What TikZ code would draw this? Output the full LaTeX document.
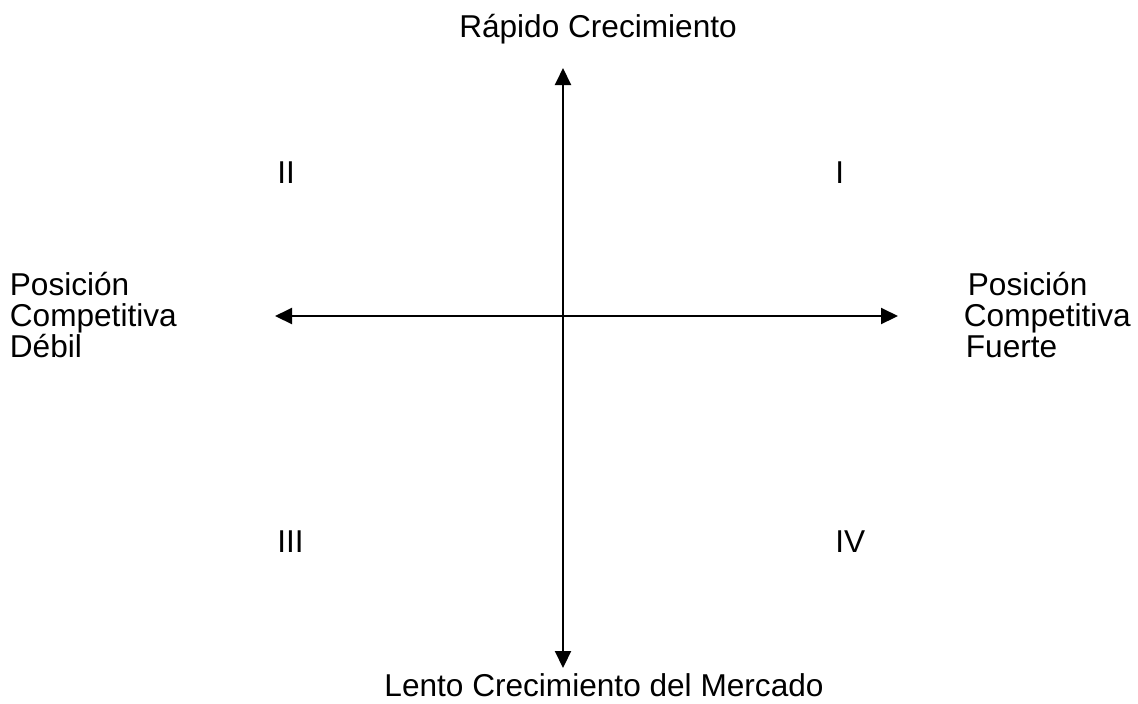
\documentclass[tikz,border=0pt]{standalone}
\usepackage{fontspec}
\setmainfont{Liberation Sans}
\usepackage{tikz}
\usetikzlibrary{arrows.meta, positioning}
\tikzset{
    lbl/.style={inner sep=0pt, font=\fontsize{15.8}{15.5}\selectfont},
    axis/.style={line width=1pt, {Triangle[length=8.5pt,width=8pt]}-{Triangle[length=8.5pt,width=8pt]}}
}

\begin{document}
\begin{tikzpicture}[x=0.5pt, y=-0.5pt]
    \useasboundingbox (0,0) rectangle (1138,703);
    % axes
    \coordinate (top) at (563,68);
    \coordinate (bot) at (563,668);
    \coordinate (lft) at (275,316);
    \coordinate (rgt) at (898,316);
    \draw[axis] (bot) -- (top);
    \draw[axis] (lft) -- (rgt);
    % axis labels
    \node[lbl, anchor=base] (rapido) at (598,37) {Rápido Crecimiento};
    \node[lbl, anchor=base] (lento) at (604,696) {Lento Crecimiento del Mercado};
    \node[lbl, anchor=base west, align=left] (debil) at (9.5,357) {Posición\\Competitiva\\Débil};
    \node[lbl, anchor=base west] (fuerte1) at (967.5,295) {Posición};
    \node[lbl, anchor=base west] (fuerte2) at (963.5,326) {Competitiva};
    \node[lbl, anchor=base west] (fuerte3) at (965.5,357) {Fuerte};
    % quadrants
    \node[lbl, anchor=base west] (q2) at (277,183) {II};
    \node[lbl, anchor=base west] (q1) at (835,183) {I};
    \node[lbl, anchor=base west] (q3) at (277,552) {III};
    \node[lbl, anchor=base west] (q4) at (835,552) {IV};
\end{tikzpicture}
\end{document}
